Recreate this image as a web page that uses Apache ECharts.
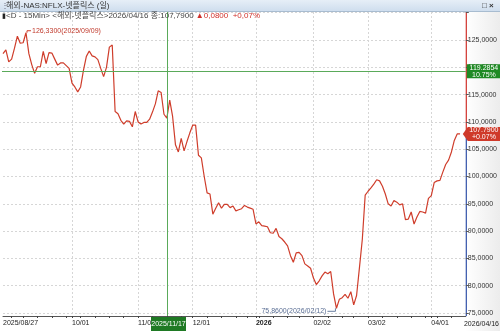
<!DOCTYPE html>
<html><head><meta charset="utf-8">
<script src="https://cdn.jsdelivr.net/npm/echarts@6/dist/echarts.min.js"></script>
<style>html,body{margin:0;padding:0;background:#fff}#c{width:500px;height:331px}</style>
</head><body><div id="c"></div><script>
// ---- data ----
const startDate = '2025-08-27', endDate = '2026-04-16';
const holidays = ['2025-09-01','2025-11-27','2025-12-25','2026-01-01','2026-01-19','2026-02-16','2026-04-03'];
const prices = [
 122.5,123.2,121.0,121.5,123.5,125.7,124.4,124.5,126.33,122.5,
 120.5,118.9,120.1,120.1,122.9,120.7,122.7,122.6,121.5,120.4,
 120.8,120.8,120.3,119.8,117.1,116.4,115.5,116.4,119.5,122.0,
 123.0,122.1,121.9,121.4,119.8,118.3,120.0,123.7,124.1,111.9,
 111.5,110.3,109.6,110.2,110.1,109.1,111.9,110.0,109.6,109.9,
 109.9,110.5,111.8,113.3,115.7,115.4,111.4,110.7,114.0,111.0,
 105.8,104.5,107.0,104.7,106.4,108.0,109.4,109.4,103.9,103.4,
 100.0,97.0,96.8,93.1,94.2,95.2,94.2,94.9,94.9,94.3,
 94.6,93.7,93.9,94.1,94.7,94.4,94.2,94.0,91.3,91.7,
 91.0,90.9,90.8,89.7,89.6,90.5,89.0,88.6,88.0,87.3,
 85.5,84.3,86.0,86.1,85.5,84.0,83.6,83.2,81.4,80.2,
 80.9,81.8,82.5,82.2,82.6,78.5,75.86,77.5,77.8,78.4,
 77.7,78.9,76.5,78.2,83.3,88.5,96.6,97.3,97.9,98.6,
 99.4,99.2,98.2,96.8,95.0,94.6,95.6,95.3,94.8,95.0,
 92.1,92.2,93.5,91.3,92.6,93.6,93.5,93.3,96.0,96.5,
 98.9,99.2,99.3,100.8,102.2,103.0,104.5,106.6,107.8,107.79
];
const yTicks = [75,80,85,90,95,100,105,110,115,120,125];
const crossDate = '2025/11/17', crossValue = 119.2854, crossPct = '10.75%';
const lastPrice = 107.79, lastChange = '0,0800', lastPct = '+0,07%';
const maxDate = '2025/09/09', maxValue = 126.33;
const minDate = '2026/02/12', minValue = 75.86;

// trading calendar (categories)
function pad(n){return n<10?'0'+n:''+n;}
const dates = [];
(function(){
  let d = new Date(startDate+'T12:00:00Z'); const e = new Date(endDate+'T12:00:00Z');
  while (d <= e) {
    const iso = d.getUTCFullYear()+'-'+pad(d.getUTCMonth()+1)+'-'+pad(d.getUTCDate());
    const wd = d.getUTCDay();
    if (wd!==0 && wd!==6 && holidays.indexOf(iso)<0) dates.push(iso.replace(/-/g,'/'));
    d = new Date(d.getTime()+86400000);
  }
})();
const cats = dates.concat(['','']);
const labelIdx = new Set();
const weekIdx = new Set();
for (let i=1;i<dates.length;i++){
  if (dates[i].slice(5,7)!==dates[i-1].slice(5,7) && dates[i].slice(5,7)!=='09') labelIdx.add(i);
  const a = new Date(dates[i].replace(/\//g,'-')+'T12:00:00Z'), b = new Date(dates[i-1].replace(/\//g,'-')+'T12:00:00Z');
  if (a.getUTCDay() < b.getUTCDay() || (a-b) > 3*86400000) weekIdx.add(i);
}
const FONT = "'Liberation Sans','Noto Sans CJK KR',sans-serif";
const chart = echarts.init(document.getElementById('c'), null, {renderer:'canvas'});
chart.setOption({
  animation:false,
  backgroundColor:'#fff',
  grid:{left:1,right:31,top:12,bottom:15},
  xAxis:{type:'category',data:cats,boundaryGap:false,
    axisLine:{lineStyle:{color:'#555',width:1}},
    axisTick:{show:true,length:2,lineStyle:{color:'#444'},interval:(i)=>weekIdx.has(i)||labelIdx.has(i)},
    axisLabel:{fontFamily:FONT,fontSize:7,color:'#222',align:'left',margin:4,
      interval:(i)=>i===0||labelIdx.has(i),
      formatter:(v,i)=>{ if(i===0) return v; if(v.slice(5,7)==='01') return '{b|'+v.slice(0,4)+'}'; return v.slice(5);},
      rich:{b:{fontFamily:FONT,fontSize:7,fontWeight:'bold',color:'#222'}}},
    splitLine:{show:true,interval:(i)=>labelIdx.has(i),lineStyle:{color:'#d6d6d6',type:[2,2]}}
  },
  yAxis:{type:'value',position:'right',min:74.45,max:130.13,minInterval:5,maxInterval:5,
    axisLine:{show:false},
    axisTick:{show:true,length:3,lineStyle:{color:'#555'}},
    axisLabel:{fontFamily:FONT,fontSize:7,color:'#333',margin:2,showMinLabel:false,showMaxLabel:false,
      formatter:(v)=>yTicks.indexOf(v)>=0?v.toFixed(4).replace('.',','):''},
    splitLine:{show:true,lineStyle:{color:'#d6d6d6',type:[2,2]}}
  },
  series:[{type:'line',data:prices,showSymbol:false,symbol:'none',
    lineStyle:{color:'#cf3d2b',width:1.2}
  }]
});
function px(d,v){return chart.convertToPixel({xAxisIndex:0,yAxisIndex:0},[d,v]);}
const topY = px(dates[0],130.13)[1], botY = px(dates[0],74.45)[1];
const leftX = px(dates[0],100)[0];
const rightX = px(cats[cats.length-1],100)[0];
const lastY = px(dates[dates.length-1],lastPrice)[1];
const crossY = px(dates[0],crossValue)[1];
const crossX = px(crossDate,100)[0];
const mx = px(maxDate,maxValue), mn = px(minDate,minValue);
const g = [];
// right panel background
g.push({type:'rect',z:-1,shape:{x:rightX,y:topY,width:500-rightX,height:331-topY},style:{fill:new echarts.graphic.LinearGradient(0,0,1,0,[{offset:0,color:'#ffffff'},{offset:1,color:'#ececec'}])}});
// header bar
g.push({type:'rect',shape:{x:0,y:0,width:500,height:11},style:{fill:new echarts.graphic.LinearGradient(0,0,0,1,[{offset:0,color:'#e6eef7'},{offset:1,color:'#cfdeee'}])}});
g.push({type:'line',shape:{x1:0,y1:11.5,x2:500,y2:11.5},style:{stroke:'#a8bcd0',lineWidth:1}});
g.push({type:'text',style:{x:1,y:6,text:'⋮',fontSize:8,fill:'#667',verticalAlign:'middle'}});
g.push({type:'text',style:{x:6,y:6,text:'해외-NAS:NFLX-넷플릭스 (일)',fontFamily:FONT,fontSize:8,fill:'#333',verticalAlign:'middle'}});
g.push({type:'text',style:{x:482,y:6,text:'□ ×',fontFamily:FONT,fontSize:8,fontWeight:'bold',fill:'#333',verticalAlign:'middle'}});
// crosshair lines
g.push({type:'line',z:5,shape:{x1:Math.round(crossX)+0.5,y1:topY,x2:Math.round(crossX)+0.5,y2:botY},style:{stroke:'rgb(90,170,90)',lineWidth:1,opacity:1}});
g.push({type:'line',z:5,shape:{x1:leftX-1,y1:Math.round(crossY)+0.5,x2:rightX,y2:Math.round(crossY)+0.5},style:{stroke:'rgb(90,170,90)',lineWidth:1,opacity:1}});
// legend line
g.push({type:'text',z:10,style:{x:2,y:16,verticalAlign:'middle',fontFamily:FONT,fontSize:8,
  text:'{k|▮}{a|<D - 15Min> <해외-넷플릭스>2026/04/16 종:'+lastPrice.toFixed(4).replace('.',',')+' }{r|▲'+lastChange+'  '+lastPct+'}',
  rich:{k:{fill:'#222',fontSize:7,fontFamily:FONT},a:{fill:'#444',fontSize:8,fontFamily:FONT},r:{fill:'#d0302a',fontSize:8,fontFamily:FONT}}}});
// right axis line (red above last price, blue below)
g.push({type:'line',shape:{x1:rightX+0.5,y1:topY,x2:rightX+0.5,y2:lastY},style:{stroke:'#d0302a',lineWidth:1.2}});
g.push({type:'line',shape:{x1:rightX+0.5,y1:lastY,x2:rightX+0.5,y2:botY},style:{stroke:'#3050a8',lineWidth:1.2}});
// crosshair value label
g.push({type:'rect',z:20,shape:{x:rightX+1,y:crossY-7,width:500-rightX-1,height:14},style:{fill:'#1f8a24'}});
g.push({type:'text',z:21,style:{x:(rightX+500)/2+1,y:crossY,text:crossValue.toFixed(4)+'\n'+crossPct,align:'center',verticalAlign:'middle',fontFamily:FONT,fontSize:7,lineHeight:7,fill:'#fff'}});
// last price label
g.push({type:'polygon',z:20,shape:{points:[[rightX-3,lastY],[rightX+2,lastY-7],[500,lastY-7],[500,lastY+7],[rightX+2,lastY+7]]},style:{fill:'#cf3a2a'}});
g.push({type:'text',z:21,style:{x:(rightX+500)/2+1,y:lastY,text:lastPrice.toFixed(4)+'\n'+lastPct.replace(',','.'),align:'center',verticalAlign:'middle',fontFamily:FONT,fontSize:7,lineHeight:7,fill:'#fff'}});
// crosshair date label
g.push({type:'rect',z:20,shape:{x:Math.round(crossX)-16,y:botY+1,width:35,height:331-botY-1},style:{fill:'#1f7a24'}});
g.push({type:'text',z:21,style:{x:Math.round(crossX)+1.5,y:botY+8,text:crossDate,align:'center',verticalAlign:'middle',fontFamily:FONT,fontSize:7,fill:'#fff'}});
// last date label
g.push({type:'text',style:{x:499,y:botY+8,text:dates[dates.length-1],align:'right',verticalAlign:'middle',fontFamily:FONT,fontSize:7,fill:'#222'}});
// max annotation
g.push({type:'polyline',shape:{points:[[mx[0]+1,mx[1]],[mx[0]+1,mx[1]-2],[mx[0]+5,mx[1]-2]]},style:{stroke:'#cf3d2b',lineWidth:1,fill:null}});
g.push({type:'text',style:{x:mx[0]+6,y:mx[1]-2,text:maxValue.toFixed(4).replace('.',',')+'('+maxDate+')',verticalAlign:'middle',fontFamily:FONT,fontSize:7,fill:'#c0392b'}});
// min annotation
g.push({type:'polyline',shape:{points:[[mn[0]-1,mn[1]],[mn[0]-1,mn[1]+3],[mn[0]-9,mn[1]+3]]},style:{stroke:'#6a7fa0',lineWidth:1,fill:null}});
g.push({type:'text',style:{x:mn[0]-10,y:mn[1]+3,text:minValue.toFixed(4).replace('.',',')+'('+minDate+')',align:'right',verticalAlign:'middle',fontFamily:FONT,fontSize:7,fill:'#5a6e94'}});
chart.setOption({graphic:g});
</script></body></html>
